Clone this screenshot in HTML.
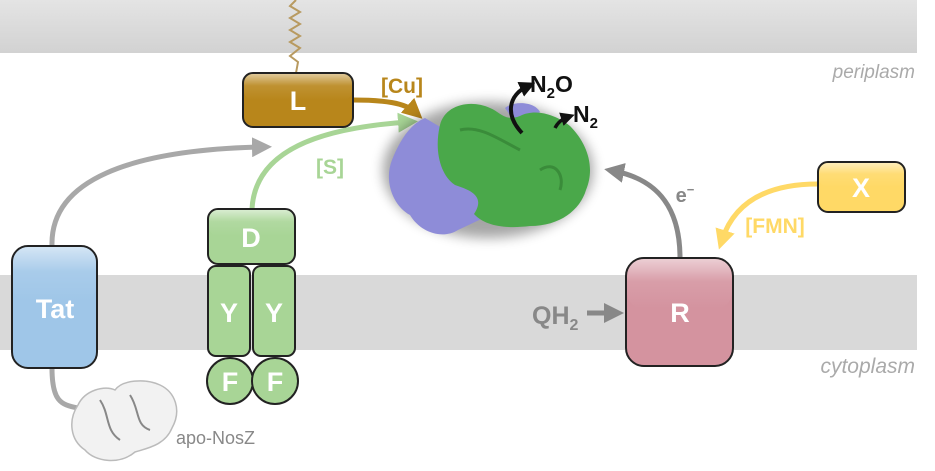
<!DOCTYPE html>
<html><head><meta charset="utf-8"><style>
html,body{margin:0;padding:0;background:#fff;}
svg{display:block;font-family:"Liberation Sans",sans-serif;}
</style></head><body>
<svg width="935" height="471" viewBox="0 0 935 471" xmlns="http://www.w3.org/2000/svg">
<defs>
<linearGradient id="top" x1="0" y1="0" x2="0" y2="1"><stop offset="0" stop-color="#e4e4e4"/><stop offset="1" stop-color="#d2d2d2"/></linearGradient>
<linearGradient id="gl" x1="0" y1="0" x2="0" y2="1"><stop offset="0" stop-color="#fff" stop-opacity="0.55"/><stop offset="0.45" stop-color="#fff" stop-opacity="0.1"/><stop offset="1" stop-color="#fff" stop-opacity="0"/></linearGradient>
<filter id="sh" x="-30%" y="-30%" width="160%" height="160%"><feGaussianBlur stdDeviation="6"/></filter>
<marker id="ag" markerWidth="4" markerHeight="4" refX="2" refY="2" orient="auto" markerUnits="strokeWidth"><path d="M0,0 L4,2 L0,4 Z" fill="#a8a8a8"/></marker>
<marker id="ad" markerWidth="4" markerHeight="4" refX="2" refY="2" orient="auto" markerUnits="strokeWidth"><path d="M0,0 L4,2 L0,4 Z" fill="#888"/></marker>
<marker id="ac" markerWidth="4" markerHeight="4" refX="2" refY="2" orient="auto" markerUnits="strokeWidth"><path d="M0,0 L4,2 L0,4 Z" fill="#b8861b"/></marker>
<marker id="as" markerWidth="4" markerHeight="4" refX="2" refY="2" orient="auto" markerUnits="strokeWidth"><path d="M0,0 L4,2 L0,4 Z" fill="#a8d596"/></marker>
<marker id="ay" markerWidth="4" markerHeight="4" refX="2" refY="2" orient="auto" markerUnits="strokeWidth"><path d="M0,0 L4,2 L0,4 Z" fill="#ffd966"/></marker>
<marker id="ak" markerWidth="4" markerHeight="4" refX="2" refY="2" orient="auto" markerUnits="strokeWidth"><path d="M0,0 L4,2 L0,4 Z" fill="#111"/></marker>
</defs>
<rect x="0" y="0" width="917" height="53" fill="url(#top)"/>
<rect x="0" y="275" width="917" height="75" fill="#d9d9d9"/>
<text x="915" y="78" font-size="19" font-style="italic" fill="#aaa" text-anchor="end">periplasm</text>
<text x="915" y="373" font-size="21" font-style="italic" fill="#aaa" text-anchor="end">cytoplasm</text>
<polyline points="296,0 290,6 300,12 290,18 300,24 290,30 300,36 290,42 300,48 290,56 298,62 296,73" fill="none" stroke="#b89a60" stroke-width="2"/>
<path d="M52,246 C50,180 130,150 262,147" fill="none" stroke="#a8a8a8" stroke-width="5" marker-end="url(#ag)"/>
<path d="M52,368 C52,400 60,405 78,408" fill="none" stroke="#a8a8a8" stroke-width="5"/>
<path d="M252,209 C255,150 320,128 408,122" fill="none" stroke="#a8d596" stroke-width="5" marker-end="url(#as)"/>
<path d="M353,100 C385,100 405,103 415,112" fill="none" stroke="#b8861b" stroke-width="5" marker-end="url(#ac)"/>
<path d="M680,258 C680,210 660,180 614,171" fill="none" stroke="#888" stroke-width="5" marker-end="url(#ad)"/>
<path d="M818,184 C770,184 735,200 722,240" fill="none" stroke="#ffd966" stroke-width="5" marker-end="url(#ay)"/>
<path d="M587,313 L614,313" fill="none" stroke="#888" stroke-width="5" marker-end="url(#ad)"/>
<ellipse cx="488" cy="170" rx="105" ry="68" fill="#000" opacity="0.35" filter="url(#sh)"/>
<path d="M505,108 C515,100 535,102 540,112 L520,130 Z" fill="#8e8cd8"/>
<path d="M425,118 C408,125 398,145 392,160 C384,180 392,205 410,215 C420,232 442,240 458,230 L492,214 L490,192 C462,190 446,180 440,160 L442,128 Z" fill="#8e8cd8"/>
<path d="M440,125 C445,105 470,99 490,108 C500,112 505,122 520,116 C536,108 556,115 570,126 C586,142 596,166 586,190 C580,210 560,226 530,226 C505,229 485,226 474,214 C486,196 470,190 455,185 C440,175 434,150 440,125 Z" fill="#4aa84a"/>
<path d="M460,130 C480,125 500,140 520,150 M540,170 C555,160 565,175 560,190" fill="none" stroke="#3a8c3a" stroke-width="3"/>
<path d="M522,133 C505,115 508,95 528,86" fill="none" stroke="#111" stroke-width="4" marker-end="url(#ak)"/>
<path d="M555,128 C558,122 562,119 568,117" fill="none" stroke="#111" stroke-width="3.5" marker-end="url(#ak)"/>
<text x="530" y="92" font-size="23" font-weight="bold" fill="#111">N<tspan font-size="15" dy="6">2</tspan><tspan dy="-6">O</tspan></text>
<text x="573" y="122" font-size="23" font-weight="bold" fill="#111">N<tspan font-size="15" dy="6">2</tspan></text>
<path d="M78,405 C85,390 105,385 115,390 C122,380 145,378 160,385 C175,392 182,410 172,428 C165,445 148,448 135,452 C120,465 95,462 85,450 C70,440 68,420 78,405 Z" fill="#f2f2f2" stroke="#bbb" stroke-width="1.5"/>
<path d="M100,400 C110,415 105,430 120,440 M130,395 C140,410 135,425 150,430" fill="none" stroke="#888" stroke-width="2"/>
<text x="176" y="444" font-size="18" fill="#888">apo-NosZ</text>
<text x="402" y="93" font-size="21" font-weight="bold" fill="#b8861b" text-anchor="middle">[Cu]</text>
<text x="330" y="174" font-size="21" font-weight="bold" fill="#a8d596" text-anchor="middle">[S]</text>
<text x="685" y="202" font-size="20" font-weight="bold" fill="#888" text-anchor="middle">e<tspan font-size="13" dy="-8">−</tspan></text>
<text x="775" y="233" font-size="21" font-weight="bold" fill="#ffd966" text-anchor="middle">[FMN]</text>
<text x="532" y="324" font-size="25" font-weight="bold" fill="#888">QH<tspan font-size="16" dy="6">2</tspan></text>
<g stroke="#222" stroke-width="2">
<rect x="243" y="73" width="110" height="54" rx="10" fill="#b8861b"/>
<rect x="12" y="246" width="85" height="122" rx="16" fill="#9fc6e8"/>
<rect x="208" y="209" width="87" height="55" rx="10" fill="#a8d596"/>
<rect x="208" y="266" width="42" height="90" rx="8" fill="#a8d596"/>
<rect x="253" y="266" width="42" height="90" rx="8" fill="#a8d596"/>
<circle cx="230" cy="381" r="23" fill="#a8d596"/>
<circle cx="275" cy="381" r="23" fill="#a8d596"/>
<rect x="626" y="258" width="107" height="108" rx="18" fill="#d4939f"/>
<rect x="818" y="162" width="87" height="50" rx="10" fill="#ffd966"/>
</g>
<g fill="url(#gl)">
<rect x="244" y="74" width="108" height="26" rx="9"/>
<rect x="13" y="247" width="83" height="55" rx="15"/>
<rect x="209" y="210" width="85" height="26" rx="9"/>
<rect x="627" y="259" width="105" height="50" rx="17"/>
<rect x="819" y="163" width="85" height="24" rx="9"/>
</g>
<g font-size="27" font-weight="bold" fill="#fff" text-anchor="middle">
<text x="298" y="110">L</text>
<text x="55" y="318">Tat</text>
<text x="251" y="247">D</text>
<text x="229" y="322">Y</text>
<text x="274" y="322">Y</text>
<text x="230" y="391">F</text>
<text x="275" y="391">F</text>
<text x="680" y="322">R</text>
<text x="861" y="197">X</text>
</g>
</svg>
</body></html>
